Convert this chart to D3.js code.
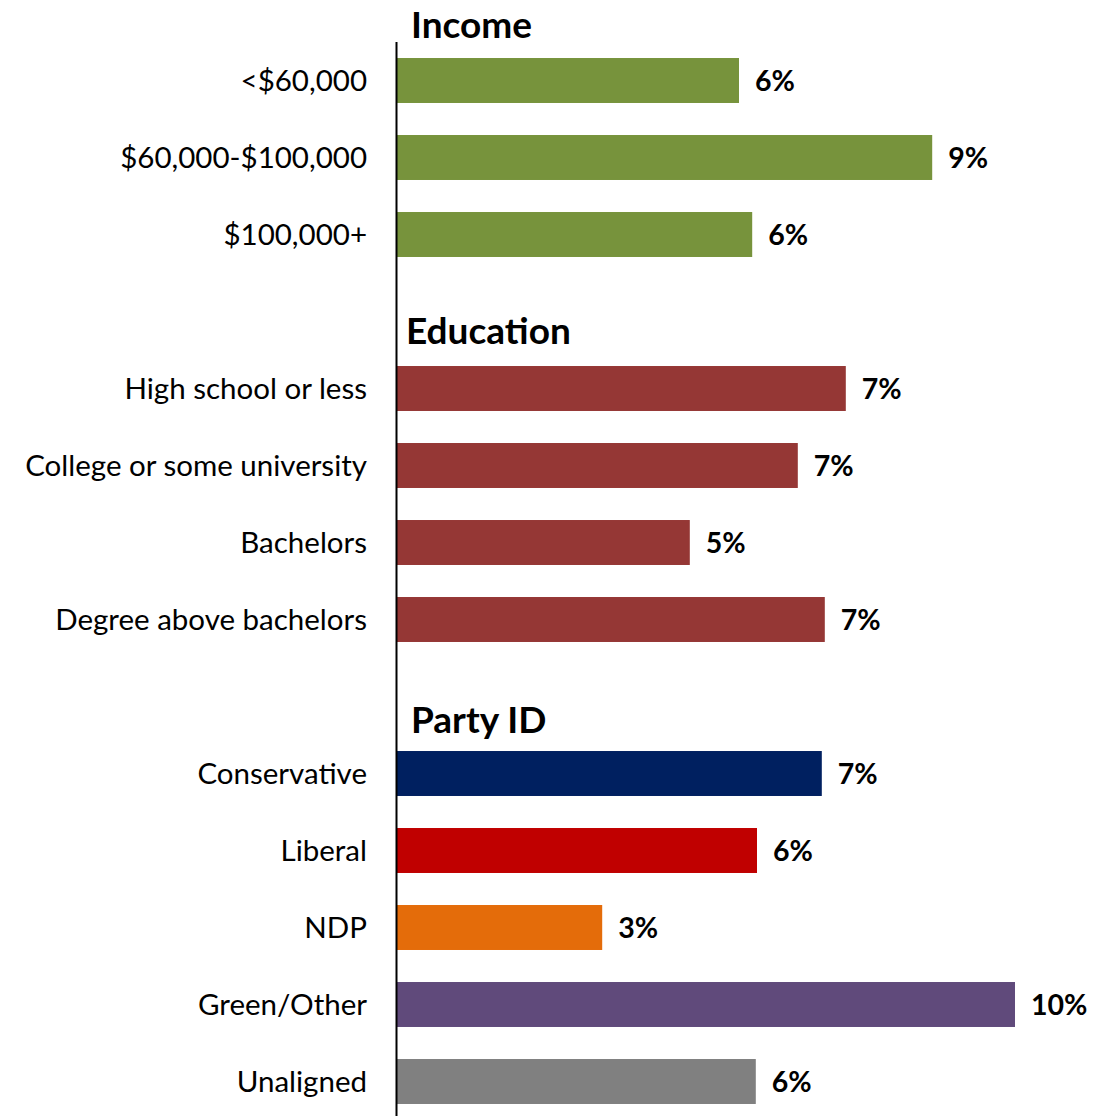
<!DOCTYPE html>
<html>
<head>
<meta charset="utf-8">
<script src="https://cdn.jsdelivr.net/npm/d3@7"></script>
<style>
  html, body { margin: 0; padding: 0; background: #fff; }
  svg { display: block; }
</style>
</head>
<body>
<svg id="chart" width="1117" height="1116"></svg>
<script>
// Row labels in drawing order; empty strings leave a gap between groups
const categories = [
  "<$60,000", "$60,000-$100,000", "$100,000+", "",
  "High school or less", "College or some university", "Bachelors", "Degree above bachelors", " ",
  "Conservative", "Liberal", "NDP", "Green/Other", "Unaligned"
];
const values = [
  5.70, 8.92, 5.92, null,
  7.48, 6.68, 4.88, 7.13, null,
  7.08, 6.00, 3.42, 10.30, 5.98
];
const barColors = [
  "#77933C", "#77933C", "#77933C", null,
  "#953735", "#953735", "#953735", "#953735", null,
  "#002060", "#C00000", "#E46C0A", "#604A7B", "#808080"
];
// Group headings and the row each one sits above
const groupTitles = ["Income", "Education", "Party ID"];
const groupFirstRow = [0, 4, 9];

const svg = d3.select("#chart");
const axisX = 397;
const font = "Lato, 'Open Sans', sans-serif";

const x = d3.scaleLinear().domain([0, 12]).range([axisX, 1117]);
const y = d3.scaleBand().domain(d3.range(categories.length)).range([42, 1120]).paddingInner(0.416).paddingOuter(0.208);

const rows = categories.map((c, i) => ({ label: c, value: values[i], color: barColors[i], i }));
const bars = rows.filter(d => d.value !== null);

// bars
svg.append("g").selectAll("rect").data(bars).join("rect")
  .attr("x", x(0))
  .attr("y", d => y(d.i))
  .attr("width", d => x(d.value) - x(0))
  .attr("height", y.bandwidth())
  .attr("fill", d => d.color);

// value labels
svg.append("g").selectAll("text").data(bars).join("text")
  .attr("x", d => x(d.value) + 16)
  .attr("y", d => y(d.i) + y.bandwidth() / 2)
  .attr("dy", "0.38em")
  .attr("font-family", font)
  .attr("font-weight", "bold")
  .attr("font-size", 28.5)
  .attr("fill", "#000")
  .text(d => Math.round(d.value) + "%");

// category labels
svg.append("g").selectAll("text").data(bars).join("text")
  .attr("x", 367)
  .attr("y", d => y(d.i) + y.bandwidth() / 2)
  .attr("dy", "0.36em")
  .attr("text-anchor", "end")
  .attr("font-family", font)
  .attr("font-size", 29.5)
  .attr("fill", "#000")
  .text(d => d.label);

// group headings
const titleX = [411, 406, 411];
const titleRise = [20.5, 22, 18];
svg.append("g").selectAll("text").data(groupTitles).join("text")
  .attr("x", (d, k) => titleX[k])
  .attr("y", (d, k) => y(groupFirstRow[k]) - titleRise[k])
  .attr("font-family", font)
  .attr("font-weight", "bold")
  .attr("font-size", 37)
  .attr("fill", "#000")
  .text(d => d);

// vertical axis line
svg.append("line")
  .attr("x1", axisX - 0.5).attr("x2", axisX - 0.5)
  .attr("y1", 42).attr("y2", 1116)
  .attr("stroke", "#000")
  .attr("stroke-width", 2);
</script>
</body>
</html>
